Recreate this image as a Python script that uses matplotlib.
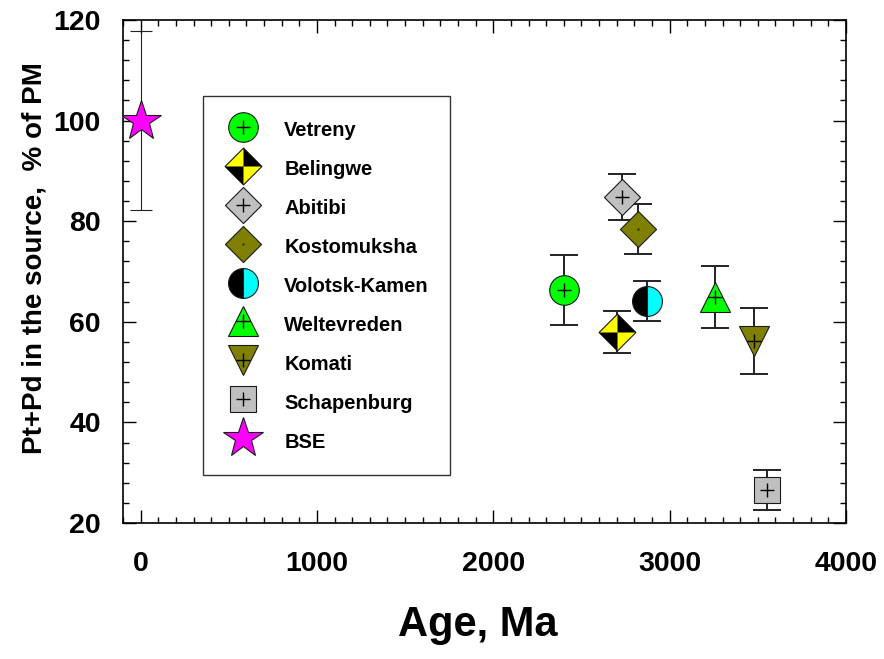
#!/usr/bin/env python3
"""Pt+Pd content of komatiite sources versus age, relative to primitive mantle."""

import matplotlib
matplotlib.use("Agg")
import matplotlib.pyplot as plt
from matplotlib.lines import Line2D
from matplotlib.path import Path
from matplotlib.ticker import MultipleLocator

plt.rcParams["font.family"] = ["Liberation Sans", "DejaVu Sans"]
plt.rcParams["font.weight"] = "bold"

# sample suites, ages (Ma), Pt+Pd (% of PM) and 1-sigma errors
names = ["Vetreny", "Belingwe", "Abitibi", "Kostomuksha", "Volotsk-Kamen",
         "Weltevreden", "Komati", "Schapenburg", "BSE"]
ages = [2400, 2700, 2730, 2820, 2870, 3260, 3480, 3550, 0]
ptpd = [66.3, 58.0, 84.8, 78.4, 64.1, 64.9, 56.2, 26.6, 100.0]
ptpd_err = [6.9, 4.2, 4.6, 5.0, 4.0, 6.2, 6.5, 4.0, 17.8]

x_ticks = [0, 1000, 2000, 3000, 4000]
y_ticks = [20, 40, 60, 80, 100, 120]

# marker shapes
DIAMOND = Path([(0, 1), (1, 0), (0, -1), (-1, 0), (0, 1)],
               [Path.MOVETO, Path.LINETO, Path.LINETO, Path.LINETO, Path.CLOSEPOLY])
DIAMOND_QUADS = Path(
    [(0, 0), (0, 1), (1, 0), (0, 0), (0, 0), (0, -1), (-1, 0), (0, 0)],
    [Path.MOVETO, Path.LINETO, Path.LINETO, Path.CLOSEPOLY] * 2,
)

EDGE = "#1a1a1a"
ERR_COLOR = "#222222"

# per-series marker style
styles = {
    "Vetreny": dict(marker="o", markersize=21.3, markerfacecolor="#00FF00"),
    "Belingwe": dict(marker=DIAMOND, markersize=26.5, markerfacecolor="#FFFF00"),
    "Abitibi": dict(marker=DIAMOND, markersize=26.0, markerfacecolor="#C0C0C0"),
    "Kostomuksha": dict(marker=DIAMOND, markersize=26.0, markerfacecolor="#808000"),
    "Volotsk-Kamen": dict(marker="o", markersize=21.5, markerfacecolor="black",
                          markerfacecoloralt="#00FFFF", fillstyle="left"),
    "Weltevreden": dict(marker="^", markersize=21.0, markerfacecolor="#00FF00"),
    "Komati": dict(marker="v", markersize=21.5, markerfacecolor="#808000"),
    "Schapenburg": dict(marker="s", markersize=19.4, markerfacecolor="#C0C0C0"),
    "BSE": dict(marker="*", markersize=30.0, markerfacecolor="#FF00FF"),
}
with_plus = {"Vetreny", "Abitibi", "Weltevreden", "Komati", "Schapenburg"}


def marker_kw(name):
    kw = dict(linestyle="none", markeredgecolor=EDGE, markeredgewidth=0.8)
    kw.update(styles[name])
    return kw


def handle_for(name):
    parts = [Line2D([], [], **marker_kw(name))]
    if name == "Belingwe":
        parts.append(Line2D([], [], linestyle="none", marker=DIAMOND_QUADS,
                            markersize=styles[name]["markersize"],
                            markerfacecolor="black", markeredgewidth=0))
    if name in with_plus:
        parts.append(Line2D([], [], linestyle="none", marker="+", markersize=9.5,
                            color="black", markeredgewidth=1.0))
    if name == "Kostomuksha":
        parts.append(Line2D([], [], linestyle="none", marker=".", markersize=1.5,
                            color="#333300"))
    return tuple(parts) if len(parts) > 1 else parts[0]


fig = plt.figure(figsize=(8.84, 6.59), dpi=100)
ax = fig.add_axes([0.1391, 0.2064, 0.8179, 0.7633])

handles = []
for name, x, y, e in zip(names, ages, ptpd, ptpd_err):
    thin = name == "BSE"
    ax.errorbar([x], [y], yerr=[e], fmt="none", ecolor=ERR_COLOR,
                elinewidth=0.8 if thin else 1.4, capthick=0.8 if thin else 1.4,
                capsize=8 if thin else 10, zorder=2)
    ax.plot([x], [y], zorder=3, **marker_kw(name))
    if name == "Belingwe":
        ax.plot([x], [y], linestyle="none", marker=DIAMOND_QUADS,
                markersize=styles[name]["markersize"], markerfacecolor="black",
                markeredgewidth=0, zorder=4)
    if name in with_plus:
        ax.plot([x], [y], linestyle="none", marker="+", markersize=9.5,
                color="black", markeredgewidth=1.0, zorder=5)
    if name == "Kostomuksha":
        ax.plot([x], [y], linestyle="none", marker=".", markersize=1.5,
                color="#333300", zorder=5)
    handles.append(handle_for(name))

ax.set_xlim(-100, 4000)
ax.set_ylim(20, 120)
ax.set_xticks(x_ticks)
ax.set_yticks(y_ticks)
ax.xaxis.set_minor_locator(MultipleLocator(100))
ax.yaxis.set_minor_locator(MultipleLocator(4))
ax.tick_params(which="both", direction="in", top=True, right=True,
               width=1.0, colors="black")
ax.tick_params(which="major", length=9.4, labelsize=20.5)
ax.tick_params(which="minor", length=4.5)
ax.tick_params(axis="x", pad=20)
ax.tick_params(axis="y", pad=16)
for spine in ax.spines.values():
    spine.set_linewidth(1.2)

ax.set_xlabel("Age, Ma", fontsize=30, fontweight="bold")
ax.xaxis.set_label_coords(0.491, -0.163)
ax.set_ylabel("Pt+Pd in the source,  % of PM", fontsize=20, fontweight="bold")
ax.yaxis.set_label_coords(-0.104, 0.526)

leg = ax.legend(handles, names, loc="upper left", bbox_to_anchor=(0.111, 0.849),
                borderaxespad=0, fontsize=14.5, frameon=True, fancybox=False,
                edgecolor="black", borderpad=1.04, handlelength=1.89,
                handleheight=1.6, handletextpad=1.09, labelspacing=0.65)
leg.get_frame().set_linewidth(1.0)
for t in leg.get_texts():
    t.set_fontweight("bold")

fig.savefig("out.png", dpi=100, facecolor="white")
